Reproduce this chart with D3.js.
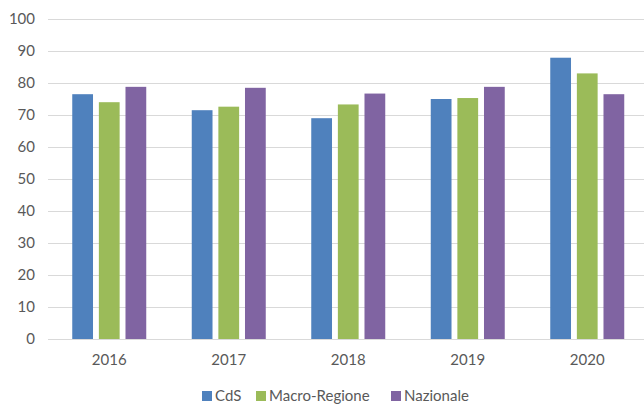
<!DOCTYPE html>
<html>
<head>
<meta charset="utf-8">
<script src="https://cdn.jsdelivr.net/npm/d3@7"></script>
<style>
  body { margin: 0; background: #fff; }
  text { font-family: Lato, "Open Sans", sans-serif; fill: #595959; }
</style>
</head>
<body>
<script>
var years = ["2016", "2017", "2018", "2019", "2020"];
var series = ["CdS", "Macro-Regione", "Nazionale"];
var cds = [76.5, 71.5, 69.0, 75.0, 87.9];
var macro = [74.0, 72.6, 73.3, 75.3, 83.0];
var nazionale = [78.8, 78.5, 76.7, 78.8, 76.5];
var yTicks = [0, 10, 20, 30, 40, 50, 60, 70, 80, 90, 100];

var colors = ["#4f81bd", "#9bbb59", "#8064a2"];
var values = [cds, macro, nazionale];

var width = 644, height = 405;

var svg = d3.select("body").append("svg")
    .attr("width", width)
    .attr("height", height);

var x0 = d3.scaleBand()
    .domain(years)
    .range([49.5, 647]);

var x1 = d3.scaleBand()
    .domain(series)
    .range([-37, 37])
    .paddingInner(0.22);

var y = d3.scaleLinear()
    .domain([0, 100])
    .range([339, 19]);

// gridlines
svg.append("g")
  .selectAll("line")
  .data(yTicks)
  .enter().append("line")
    .attr("x1", 48)
    .attr("x2", width)
    .attr("y1", function(d) { return Math.round(y(d)) + 0.5; })
    .attr("y2", function(d) { return Math.round(y(d)) + 0.5; })
    .attr("stroke", "#d9d9d9")
    .attr("stroke-width", 1.2);

// y labels
svg.append("g")
  .selectAll("text")
  .data(yTicks)
  .enter().append("text")
    .attr("x", 35)
    .attr("y", function(d) { return y(d); })
    .attr("dy", "0.36em")
    .attr("text-anchor", "end")
    .style("font-size", "15px")
    .text(function(d) { return d; });

// bars
var groups = svg.append("g")
  .selectAll("g")
  .data(years)
  .enter().append("g")
    .attr("transform", function(d) { return "translate(" + (x0(d) + x0.bandwidth() / 2) + ",0)"; });

groups.selectAll("rect")
  .data(function(d, i) { return series.map(function(s, k) { return {s: s, k: k, v: values[k][i]}; }); })
  .enter().append("rect")
    .attr("x", function(d) { return x1(d.s); })
    .attr("width", x1.bandwidth())
    .attr("y", function(d) { return y(d.v); })
    .attr("height", function(d) { return y(0) - y(d.v); })
    .attr("fill", function(d) { return colors[d.k]; });

// x labels
svg.append("g")
  .selectAll("text")
  .data(years)
  .enter().append("text")
    .attr("x", function(d) { return x0(d) + x0.bandwidth() / 2; })
    .attr("y", 360)
    .attr("dy", "0.36em")
    .attr("text-anchor", "middle")
    .style("font-size", "15px")
    .text(function(d) { return d; });

// legend
var legendX = [202, 256, 391];
var legend = svg.append("g")
  .selectAll("g")
  .data(series)
  .enter().append("g")
    .attr("transform", function(d, i) { return "translate(" + legendX[i] + ",396)"; });

legend.append("rect")
    .attr("x", 0)
    .attr("y", -5)
    .attr("width", 10)
    .attr("height", 10)
    .attr("fill", function(d, i) { return colors[i]; });

legend.append("text")
    .attr("x", 13)
    .attr("y", 0)
    .attr("dy", "0.36em")
    .style("font-size", "15px")
    .text(function(d) { return d; });
</script>
</body>
</html>
